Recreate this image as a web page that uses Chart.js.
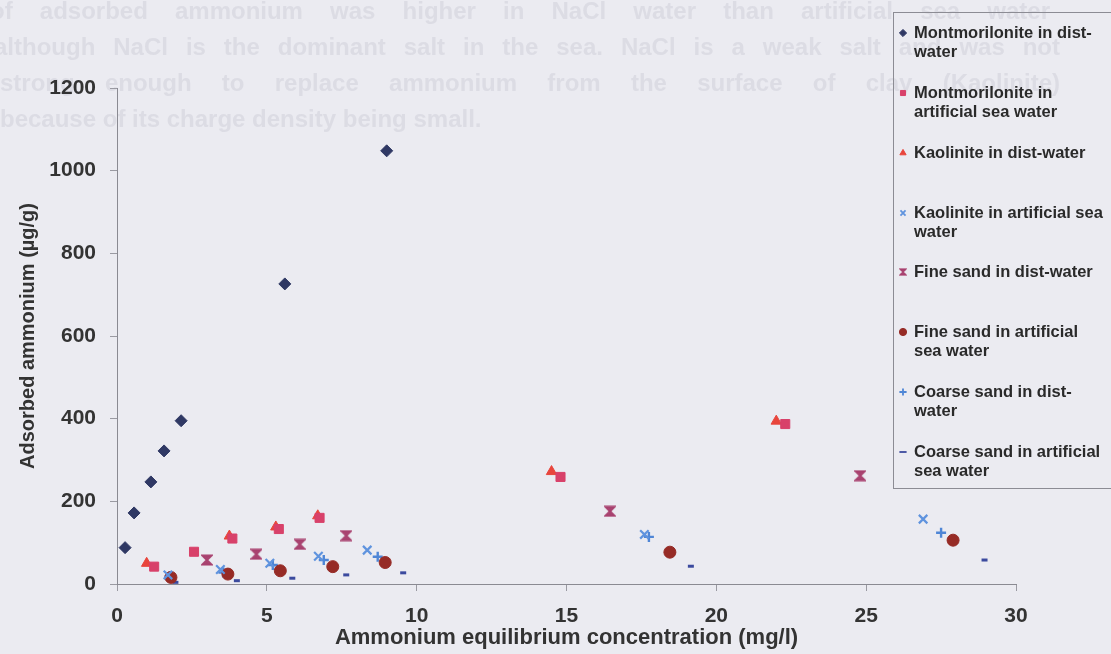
<!DOCTYPE html>
<html><head><meta charset="utf-8">
<script src="https://cdn.jsdelivr.net/npm/chart.js@4/dist/chart.umd.min.js"></script>
<style>html,body{margin:0;padding:0;background:#ebebf1;}canvas{display:block;}</style>
</head><body>
<canvas id="c" width="1111" height="654"></canvas>
<script>
// ---- data ----
const seriesNames = [
  "Montmorilonite in dist-water",
  "Montmorilonite in artificial sea water",
  "Kaolinite in dist-water",
  "Kaolinite in artificial sea water",
  "Fine sand in dist-water",
  "Fine sand in artificial sea water",
  "Coarse sand in dist-water",
  "Coarse sand in artificial sea water"
];
const legendLines = [
  ["Montmorilonite in dist-", "water"],
  ["Montmorilonite in", "artificial sea water"],
  ["Kaolinite in dist-water"],
  ["Kaolinite in artificial sea", "water"],
  ["Fine sand in dist-water"],
  ["Fine sand in artificial", "sea water"],
  ["Coarse sand in dist-", "water"],
  ["Coarse sand in artificial", "sea water"]
];

const montDistX = [0.27, 0.57, 1.13, 1.57, 2.14, 5.6, 9.0];
const montDistY = [88, 172, 247, 322, 395, 726, 1048];

const montSeaX = [1.24, 2.57, 3.85, 5.4, 6.76, 14.8, 22.3];
const montSeaY = [42, 78, 110, 133, 160, 259, 387];

const kaoDistX = [0.99, 3.75, 5.3, 6.7, 14.5, 22.0];
const kaoDistY = [50, 116, 138, 165, 272, 394];

const kaoSeaX = [1.7, 3.45, 5.1, 6.72, 8.35, 17.6, 26.9];
const kaoSeaY = [22, 35, 50, 67, 82, 120, 157];

const fineDistX = [3.0, 4.65, 6.1, 7.65, 16.45, 24.8];
const fineDistY = [58, 72, 96, 117, 176, 262];

const fineSeaX = [1.8, 3.7, 5.45, 7.2, 8.95, 18.45, 27.9];
const fineSeaY = [16, 24, 32, 42, 52, 77, 106];

const coarseDistX = [1.75, 3.55, 5.2, 6.9, 8.7, 17.75, 27.5];
const coarseDistY = [18, 28, 46, 58, 66, 114, 124];

const coarseSeaX = [1.95, 4.0, 5.85, 7.65, 9.55, 19.15, 28.95];
const coarseSeaY = [4, 8, 14, 22, 27, 43, 58];

const xTickLabels = ["0", "5", "10", "15", "20", "25", "30"];
const yTickLabels = ["0", "200", "400", "600", "800", "1000", "1200"];
const xTitle = "Ammonium equilibrium concentration (mg/l)";
const yTitle = "Adsorbed ammonium (\u00b5g/g)";

const ghostLines = [
  "of adsorbed ammonium was higher in NaCl water than artificial sea water",
  "although NaCl is the dominant salt in the sea. NaCl is a weak salt and was not",
  "strong enough to replace ammonium from the surface of clay (Kaolinite)",
  "because of its charge density being small."
];

// ---- styles ----
const FONT = "'Liberation Sans', Arial, sans-serif";
const BG = '#ebebf1';

function hourglass(color) {
  const c = document.createElement('canvas');
  c.width = 12; c.height = 12;
  const g = c.getContext('2d');
  g.strokeStyle = color; g.fillStyle = color; g.lineWidth = 2;
  g.beginPath();
  g.moveTo(1.5, 1.5); g.lineTo(10.5, 1.5); g.lineTo(1.5, 10.5); g.lineTo(10.5, 10.5); g.closePath();
  g.stroke();
  g.beginPath(); g.moveTo(3, 2); g.lineTo(9, 2); g.lineTo(6, 5.5); g.closePath(); g.fill();
  g.beginPath(); g.moveTo(3, 10); g.lineTo(9, 10); g.lineTo(6, 6.5); g.closePath(); g.fill();
  return c;
}

function pts(xs, ys) { return xs.map((x, i) => ({ x: x, y: ys[i] })); }

const styles = [
  { pointStyle: 'rectRot', radius: 6, bg: '#2f3864', bc: '#2f3864', bw: 1 },
  { pointStyle: 'rect', radius: 6.4, bg: '#d8416a', bc: '#d8416a', bw: 1 },
  { pointStyle: 'triangle', radius: 6, bg: '#e8453c', bc: '#e8453c', bw: 1 },
  { pointStyle: 'crossRot', radius: 6, bg: '#5f93de', bc: '#5f93de', bw: 2.2 },
  { pointStyle: hourglass('#a8416f'), radius: 6, bg: '#a8416f', bc: '#a8416f', bw: 1 },
  { pointStyle: 'circle', radius: 6, bg: '#962b26', bc: '#962b26', bw: 1 },
  { pointStyle: 'cross', radius: 5, bg: '#4f86d6', bc: '#4f86d6', bw: 2.4 },
  { pointStyle: 'line', radius: 3, bg: '#3b4a9e', bc: '#3b4a9e', bw: 3 }
];
const seriesData = [
  pts(montDistX, montDistY), pts(montSeaX, montSeaY), pts(kaoDistX, kaoDistY), pts(kaoSeaX, kaoSeaY),
  pts(fineDistX, fineDistY), pts(fineSeaX, fineSeaY), pts(coarseDistX, coarseDistY), pts(coarseSeaX, coarseSeaY)
];

const datasets = seriesNames.map((name, i) => ({
  label: name,
  data: seriesData[i],
  showLine: false,
  pointStyle: styles[i].pointStyle,
  pointRadius: styles[i].radius,
  pointHoverRadius: styles[i].radius,
  backgroundColor: styles[i].bg,
  borderColor: styles[i].bc,
  pointBorderWidth: styles[i].bw,
  borderWidth: styles[i].bw
}));

const bgPlugin = {
  id: 'bgGhost',
  beforeDraw(chart) {
    const ctx = chart.ctx;
    ctx.save();
    ctx.fillStyle = BG;
    ctx.fillRect(0, 0, chart.width, chart.height);
    // faint show-through text of the scanned page
    ctx.fillStyle = 'rgba(150,150,165,0.17)';
    ctx.font = "bold 24px " + FONT;
    ctx.textBaseline = 'middle';
    const spans = [[-10, 1050], [-6, 1060], [0, 1060], null];
    const ys = [12, 48, 84, 120];
    ghostLines.forEach((line, k) => {
      const words = line.split(' ');
      if (!spans[k]) { ctx.fillText(line, 0, ys[k]); return; }
      const total = words.reduce((s, w) => s + ctx.measureText(w).width, 0);
      const gap = (spans[k][1] - spans[k][0] - total) / (words.length - 1);
      let x = spans[k][0];
      words.forEach(w => { ctx.fillText(w, x, ys[k]); x += ctx.measureText(w).width + gap; });
    });
    ctx.restore();
  }
};

const legendPlugin = {
  id: 'boxLegend',
  afterDraw(chart) {
    const ctx = chart.ctx;
    const H = Chart.helpers;
    ctx.save();
    const bx = 893.5, by = 12.5, bw = 230, bh = 476;
    ctx.strokeStyle = '#8c8c94';
    ctx.lineWidth = 1;
    ctx.strokeRect(bx, by, bw, bh);
    const rowY = [33, 93, 153, 213, 272, 332, 392, 452];
    ctx.font = "bold 16.5px " + FONT;
    ctx.fillStyle = '#2a2a2a';
    ctx.textBaseline = 'middle';
    chart.data.datasets.forEach((ds, i) => {
      const y = rowY[i];
      ctx.save();
      ctx.fillStyle = ds.backgroundColor;
      ctx.strokeStyle = ds.borderColor;
      const lw = Math.min(ds.pointBorderWidth, 1.8);
      ctx.lineWidth = lw;
      const opts = { pointStyle: ds.pointStyle, radius: 3.6, rotation: 0, borderWidth: lw };
      if (typeof ds.pointStyle === 'object') {
        ctx.drawImage(ds.pointStyle, 903 - 4, y - 4, 8, 8);
      } else if (H && H.drawPoint) {
        H.drawPoint(ctx, opts, 903, y);
      }
      ctx.restore();
      legendLines[i].forEach((t, j) => ctx.fillText(t, 914, y + j * 19));
    });
    ctx.restore();
  }
};

new Chart(document.getElementById('c'), {
  type: 'scatter',
  data: { datasets: datasets },
  plugins: [bgPlugin, legendPlugin],
  options: {
    responsive: false,
    animation: false,
    events: [],
    layout: { padding: { top: 88, right: 95, bottom: 0, left: 0 } },
    plugins: { legend: { display: false }, tooltip: { enabled: false } },
    scales: {
      x: {
        type: 'linear', min: 0, max: 30,
        afterFit(s) { s.height = 70; },
        ticks: {
          stepSize: 5, padding: 13, color: '#333',
          font: { family: FONT, size: 21, weight: 'bold' },
          callback: (v) => xTickLabels[v / 5]
        },
        grid: { drawOnChartArea: false, drawTicks: true, tickLength: 7, color: '#9a9aa2' },
        border: { display: true, color: '#8a8a92', width: 1 },
        title: { display: true, text: xTitle, color: '#333', padding: { top: 0, bottom: 3 },
          font: { family: FONT, size: 22, weight: 'bold' } }
      },
      y: {
        type: 'linear', min: 0, max: 1200,
        afterFit(s) { s.width = 117; },
        ticks: {
          stepSize: 200, padding: 14, color: '#333',
          font: { family: FONT, size: 21, weight: 'bold' },
          callback: (v) => yTickLabels[v / 200]
        },
        grid: { drawOnChartArea: false, drawTicks: true, tickLength: 7, color: '#9a9aa2' },
        border: { display: true, color: '#8a8a92', width: 1 },
        title: { display: true, text: yTitle, color: '#333', padding: { top: 16, bottom: 0 },
          font: { family: FONT, size: 20, weight: 'bold' } }
      }
    }
  }
});
</script>
</body></html>
